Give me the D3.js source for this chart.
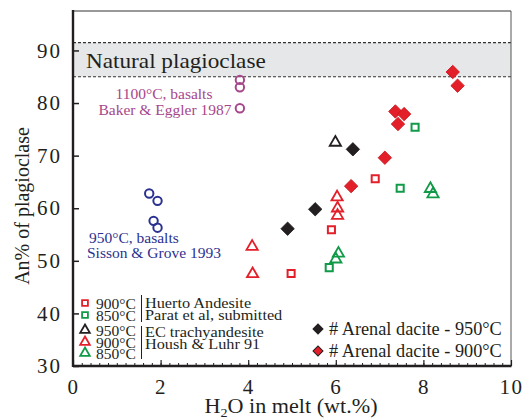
<!DOCTYPE html>
<html><head><meta charset="utf-8">
<script src="https://cdn.jsdelivr.net/npm/d3@7"></script>
<style>body{margin:0;background:#fff}svg{display:block}text{font-family:"Liberation Serif","Times New Roman",serif}</style>
</head><body><svg id="c" width="522" height="420"></svg>
<script>
// ---- data (H2O wt.%, An%) ----
const huerto900 = [[4.98,47.6],[5.9,55.9],[6.9,65.6]];
const parat850 = [[5.85,48.7],[7.47,63.8],[7.81,75.4]];
const ec950 = [[5.99,72.5]];
const housh900 = [[4.09,52.7],[4.1,47.5],[6.03,62.1],[6.04,60.0],[6.04,58.6]];
const housh850 = [[6.06,51.4],[6.0,50.3],[8.16,63.7],[8.22,62.7]];
const arenal950 = [[4.9,56.1],[5.53,59.8],[6.39,71.2]];
const arenal900 = [[6.35,64.2],[7.12,69.6],[7.36,78.4],[7.56,77.9],[7.42,76.0],[8.67,85.9],[8.78,83.3]];
const sisson950 = [[1.74,62.8],[1.93,61.4],[1.84,57.6],[1.93,56.3]];
const baker1100 = [[3.81,84.4],[3.81,83.0],[3.81,79.0]];
const naturalBand = [85, 91.5];
const xTicks = [0,2,4,6,8,10];
const yTicks = [30,40,50,60,70,80,90];

const RED="#e3202a", GREEN="#119a48", BLACK="#231f20", BLUE="#2b3190", PURPLE="#a6478b";

const svg = d3.select("#c");
const L=73, R=511, T=11, B=366;
const x = d3.scaleLinear().domain([0,10]).range([L,R]);
const y = d3.scaleLinear().domain([30,97.5]).range([B,T]);

// band
svg.append("rect").attr("x",L).attr("width",R-L).attr("y",y(naturalBand[1])).attr("height",y(naturalBand[0])-y(naturalBand[1])).attr("fill","#e6e7e8");
naturalBand.forEach(v=>svg.append("line").attr("x1",L).attr("x2",R).attr("y1",y(v)).attr("y2",y(v)).attr("stroke","#333").attr("stroke-width",1.2).attr("stroke-dasharray","3,2"));
svg.append("text").attr("transform","translate(86,68) scale(1.08,1)").attr("font-size",21.5).attr("fill","#231f20").text("Natural plagioclase");

// frame
svg.append("line").attr("x1",L).attr("x2",R).attr("y1",T).attr("y2",T).attr("stroke","#333").attr("stroke-width",1);
svg.append("line").attr("x1",R).attr("x2",R).attr("y1",T).attr("y2",B).attr("stroke","#555").attr("stroke-width",1);

// axes
const yAxis = d3.axisLeft(y).tickValues(yTicks).tickSize(-6).tickPadding(11).tickFormat(d3.format("d"));
const gy = svg.append("g").attr("transform",`translate(${L},0)`).call(yAxis);
gy.select(".domain").remove();
gy.selectAll("line").attr("stroke",BLACK).attr("stroke-width",1.5);
gy.selectAll("text").attr("font-size",21).attr("fill",BLACK).attr("letter-spacing",2).attr("font-family","Liberation Serif");

const minor = d3.range(0,10.001,0.2);
const gxm = svg.append("g").attr("transform",`translate(0,${B})`).call(d3.axisBottom(x).tickValues(minor).tickSize(-3).tickFormat(""));
gxm.select(".domain").remove();
gxm.selectAll("line").attr("stroke",BLACK).attr("stroke-width",1);
const gx = svg.append("g").attr("transform",`translate(0,${B})`).call(d3.axisBottom(x).tickValues(xTicks).tickSize(-6).tickPadding(13).tickFormat(d3.format("d")));
gx.select(".domain").remove();
gx.selectAll("line").attr("stroke",BLACK).attr("stroke-width",1.2);
gx.selectAll("text").attr("font-size",21).attr("fill",BLACK).attr("letter-spacing",1.5).attr("font-family","Liberation Serif");

svg.append("line").attr("x1",L).attr("x2",L).attr("y1",T-1).attr("y2",B+1).attr("stroke",BLACK).attr("stroke-width",2.4);
svg.append("line").attr("x1",L).attr("x2",R+0.5).attr("y1",B).attr("y2",B).attr("stroke",BLACK).attr("stroke-width",2.4);

// axis titles
svg.append("text").attr("transform","translate(29,206) rotate(-90)").attr("text-anchor","middle").attr("font-size",20).attr("fill",BLACK).text("An% of plagioclase");
const xt = svg.append("text").attr("transform","translate(291,412.5) scale(1.08,1)").attr("text-anchor","middle").attr("font-size",20.5).attr("fill",BLACK);
xt.append("tspan").text("H");
xt.append("tspan").attr("font-size",13).attr("dy",4).text("2");
xt.append("tspan").attr("dy",-4).text("O in melt (wt.%)");

// marker helpers
const sym = (type,size)=>d3.symbol().type(type).size(size)();
function pts(data, type, size, color, filled, sw, rot){
  svg.append("g").selectAll("path").data(data).join("path")
    .attr("transform",d=>`translate(${x(d[0])},${y(d[1])})${rot?" rotate(45)":""}`)
    .attr("d",sym(type,size))
    .attr("fill",filled?color:"none").attr("stroke",filled?(color===RED?"#c8161e":color):color).attr("stroke-width",sw);
}
function circles(data,color){
  svg.append("g").selectAll("circle").data(data).join("circle")
    .attr("cx",d=>x(d[0])).attr("cy",d=>y(d[1])).attr("r",4.2)
    .attr("fill","none").attr("stroke",color).attr("stroke-width",2);
}
circles(sisson950,BLUE);
circles(baker1100,PURPLE);
pts(huerto900,d3.symbolSquare,50,RED,false,2);
pts(parat850,d3.symbolSquare,50,GREEN,false,2);
pts(housh900,d3.symbolTriangle,55,RED,false,1.8);
pts(housh850,d3.symbolTriangle,55,GREEN,false,1.8);
pts(ec950,d3.symbolTriangle,55,BLACK,false,1.8);
pts(arenal950,d3.symbolSquare,90,BLACK,true,0.8,true);
pts(arenal900,d3.symbolSquare,90,RED,true,0.8,true);

// annotations
const ann=(t,xx,yy,c,anchor)=>svg.append("text").attr("x",xx).attr("y",yy).attr("font-size",15.5).attr("fill",c).attr("text-anchor",anchor||"start").text(t);
ann("1100°C, basalts",164,99,PURPLE,"middle");
ann("Baker & Eggler 1987",165,115,PURPLE,"middle");
ann("950°C, basalts",89,243,BLUE);
ann("Sisson & Grove 1993",87,258,BLUE);

// legend left
const legRows = [
  {sym:d3.symbolSquare, c:RED, t:"900°C", y:303},
  {sym:d3.symbolSquare, c:GREEN, t:"850°C", y:315},
  {sym:d3.symbolTriangle, c:BLACK, t:"950°C", y:330},
  {sym:d3.symbolTriangle, c:RED, t:"900°C", y:342},
  {sym:d3.symbolTriangle, c:GREEN, t:"850°C", y:353}
];
legRows.forEach(r=>{
  svg.append("path").attr("transform",`translate(85,${r.y})`).attr("d",sym(r.sym,r.sym===d3.symbolSquare?34:40)).attr("fill","none").attr("stroke",r.c).attr("stroke-width",1.8);
  svg.append("text").attr("x",96).attr("y",r.y+5.5).attr("font-size",15.5).attr("fill",BLACK).text(r.t);
});
svg.append("line").attr("x1",141.5).attr("x2",141.5).attr("y1",295).attr("y2",322).attr("stroke",BLACK).attr("stroke-width",1);
svg.append("line").attr("x1",141.5).attr("x2",141.5).attr("y1",326).attr("y2",359).attr("stroke",BLACK).attr("stroke-width",1);
const lt=(t,yy)=>svg.append("text").attr("transform",`translate(145,${yy}) scale(1.05,1)`).attr("font-size",15.5).attr("fill",BLACK).text(t);
lt("Huerto Andesite",308);
lt("Parat et al, submitted",320);
lt("EC trachyandesite",337);
lt("Housh & Luhr 91",349);

// legend right
[[BLACK,329,"# Arenal dacite - 950°C"],[RED,351,"# Arenal dacite - 900°C"]].forEach(([c,yy,t])=>{
  svg.append("path").attr("transform",`translate(318,${yy}) rotate(45)`).attr("d",sym(d3.symbolSquare,50)).attr("fill",c).attr("stroke",BLACK).attr("stroke-width",1);
  svg.append("text").attr("x",329).attr("y",yy+6).attr("font-size",18.3).attr("fill",BLACK).text(t);
});
</script></body></html>
